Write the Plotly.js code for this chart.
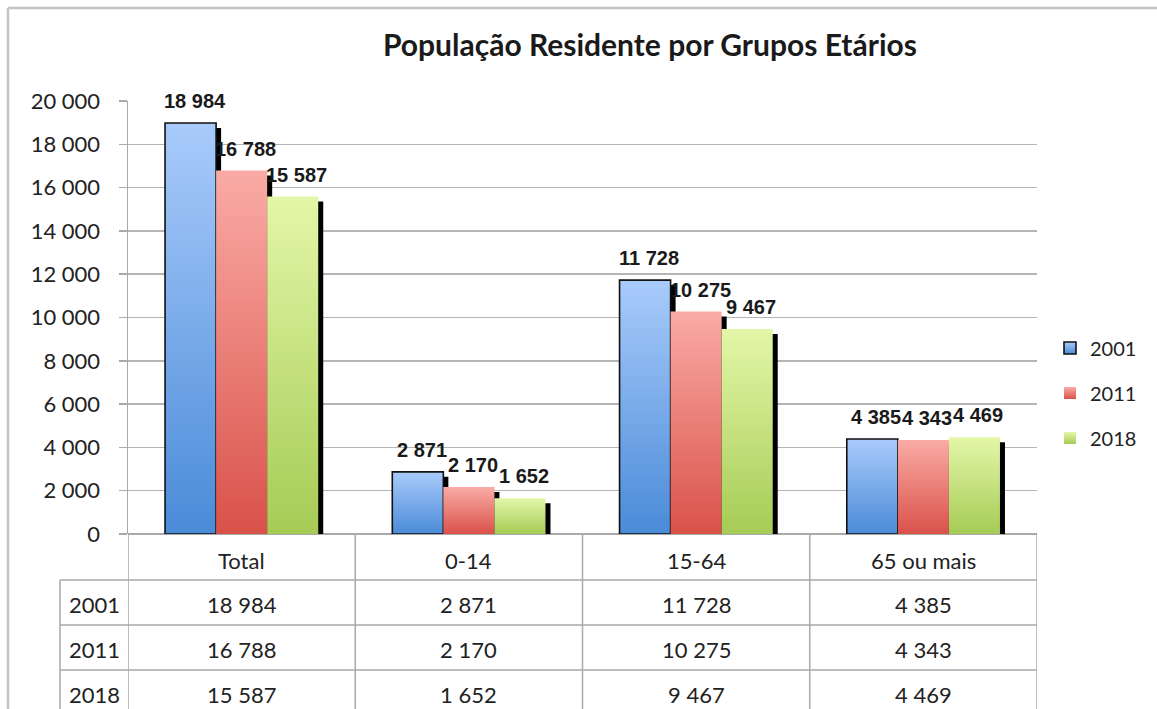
<!DOCTYPE html>
<html><head><meta charset="utf-8">
<script src="https://cdn.plot.ly/plotly-3.0.1.min.js"></script>
<style>body{margin:0;background:#fff}#chart{width:1157px;height:709px}</style>
</head><body><div id="chart"></div>
<script>
const categories = ['Total', '0-14', '15-64', '65 ou mais'];
const years = ['2001', '2011', '2018'];
const v2001 = [18984, 2871, 11728, 4385];
const v2011 = [16788, 2170, 10275, 4343];
const v2018 = [15587, 1652, 9467, 4469];
const yTickVals = [0, 2000, 4000, 6000, 8000, 10000, 12000, 14000, 16000, 18000, 20000];
const yTickText = ['0', '2 000', '4 000', '6 000', '8 000', '10 000', '12 000', '14 000', '16 000', '18 000', '20 000'];

const series = [v2001, v2011, v2018];
const solid = ['#78a9ea', '#ec8680', '#c6e088'];
const grads = [['#a9cbfb', '#4a8bd8'], ['#faaba5', '#d9524a'], ['#e3f7a8', '#a6cb55']];
const fmt = v => String(v).replace(/\B(?=(\d{3})+(?!\d))/g, ' ');

const W = 0.2247, G0 = -0.337;
const SHX = 0.022, SHY = 230;
const TF = 'Lato, "Open Sans", sans-serif';
const LF = '"Liberation Sans", Arial, sans-serif';

const traces = [];
series.forEach((vals, i) => {
  traces.push({
    type: 'bar', x: categories, y: vals, base: -SHY,
    width: W, offset: G0 + i * W + SHX,
    marker: {color: '#000', line: {width: 0}},
    showlegend: false, hoverinfo: 'skip'
  });
});
series.forEach((vals, i) => {
  traces.push({
    type: 'bar', x: categories, y: vals, name: years[i],
    width: W, offset: G0 + i * W,
    legendgroup: years[i],
    marker: {color: solid[i], line: {width: i === 0 ? 1.6 : 0, color: '#111'}}
  });
});

const annotations = [];
series.forEach((vals, i) => {
  vals.forEach((v, j) => {
    annotations.push({
      x: j + G0 + (i + 0.5) * W, y: v, xref: 'x', yref: 'y',
      text: '<b>' + fmt(v) + '</b>', showarrow: false,
      xshift: 4, yshift: 22, yanchor: 'middle',
      font: {family: LF, size: 20, color: '#1a1a1a'}
    });
  });
});
// table
const py = p => (534 - p) / 433;
const px = p => (p - 128) / 909;
categories.forEach((c, j) => {
  annotations.push({x: j, y: py(560), xref: 'x', yref: 'paper', text: c, showarrow: false,
    yanchor: 'middle', font: {family: TF, size: 22, color: '#222'}});
});
const rowY = [604, 649, 694];
series.forEach((vals, i) => {
  annotations.push({x: px(67), y: py(rowY[i]), xref: 'paper', yref: 'paper', text: years[i],
    showarrow: false, xanchor: 'left', yanchor: 'middle', font: {family: TF, size: 22, color: '#222'}});
  vals.forEach((v, j) => {
    annotations.push({x: j, y: py(rowY[i]), xref: 'x', yref: 'paper', text: fmt(v), showarrow: false,
      yanchor: 'middle', font: {family: TF, size: 22, color: '#222'}});
  });
});

const LC = '#a9a9a9';
const shapes = [];
[580, 625, 670].forEach(p => shapes.push({type: 'line', xref: 'paper', yref: 'paper',
  x0: px(60), x1: px(1037), y0: py(p), y1: py(p), line: {color: LC, width: 1.5}}));
shapes.push({type: 'line', xref: 'paper', yref: 'paper', x0: px(60), x1: px(60), y0: py(580), y1: py(712), line: {color: LC, width: 1.5}});
[-0.5, 0.5, 1.5, 2.5, 3.5].forEach(x => shapes.push({type: 'line', xref: 'x', yref: 'paper',
  x0: x, x1: x, y0: 0, y1: py(712), line: {color: LC, width: 1.5}}));
// outer frame
shapes.push({type: 'line', xref: 'paper', yref: 'paper', x0: px(8), x1: px(1160), y0: py(8), y1: py(8), line: {color: '#c4c4c4', width: 2.5}});
shapes.push({type: 'line', xref: 'paper', yref: 'paper', x0: px(8), x1: px(8), y0: py(8), y1: py(712), line: {color: '#c4c4c4', width: 2.5}});

const layout = {
  width: 1157, height: 709, autosize: false,
  margin: {l: 128, r: 120, t: 101, b: 175, autoexpand: false},
  paper_bgcolor: '#fff', plot_bgcolor: '#fff',
  barmode: 'overlay',
  title: {text: '<b>População Residente por Grupos Etários</b>', x: 650 / 1157, xanchor: 'center',
    y: 1 - 45 / 709, yanchor: 'middle', font: {family: TF, size: 30, color: '#1a1a1a'}},
  xaxis: {type: 'category', categoryorder: 'array', categoryarray: categories, range: [-0.5, 3.5],
    showticklabels: false, ticks: '', showline: false, showgrid: false, zeroline: false, fixedrange: true},
  yaxis: {range: [0, 20000], tickvals: yTickVals, ticktext: yTickText, showgrid: true,
    gridcolor: '#b5b5b5', gridwidth: 1.5, showline: true, linecolor: '#a9a9a9', linewidth: 1.5,
    ticks: 'outside', ticklen: 8, tickcolor: '#a9a9a9', tickwidth: 1.5, ticklabelstandoff: 14,
    zeroline: true, zerolinecolor: '#a9a9a9', zerolinewidth: 1.5,
    tickfont: {family: TF, size: 22, color: '#222'}, fixedrange: true},
  legend: {x: px(1050), xanchor: 'left', y: py(393), yanchor: 'middle', traceorder: 'grouped',
    tracegroupgap: 16, font: {family: TF, size: 20, color: '#222'}, bgcolor: 'rgba(0,0,0,0)'},
  annotations: annotations, shapes: shapes, showlegend: true
};

Plotly.newPlot('chart', traces, layout, {displayModeBar: false, staticPlot: true}).then(gd => {
  const svg = gd.querySelector('.main-svg');
  const NS = 'http://www.w3.org/2000/svg';
  let defs = svg.querySelector('defs');
  grads.forEach((g, i) => {
    const lg = document.createElementNS(NS, 'linearGradient');
    lg.setAttribute('id', 'bargrad' + i);
    lg.setAttribute('x1', '0'); lg.setAttribute('y1', '0'); lg.setAttribute('x2', '0'); lg.setAttribute('y2', '1');
    [[0, g[0]], [1, g[1]]].forEach(([o, c]) => {
      const s = document.createElementNS(NS, 'stop');
      s.setAttribute('offset', o); s.setAttribute('stop-color', c);
      lg.appendChild(s);
    });
    defs.appendChild(lg);
  });
  const barTraces = gd.querySelectorAll('.barlayer .trace');
  barTraces.forEach((t, k) => {
    if (k >= 3) t.querySelectorAll('path').forEach(p => { p.style.fill = 'url(#bargrad' + (k - 3) + ')'; });
  });
  const legTraces = gd.querySelectorAll('.legend .traces');
  legTraces.forEach((t, k) => {
    t.querySelectorAll('.legendpoints path').forEach(p => { p.style.fill = 'url(#bargrad' + k + ')'; });
  });
});
</script>
</body></html>
